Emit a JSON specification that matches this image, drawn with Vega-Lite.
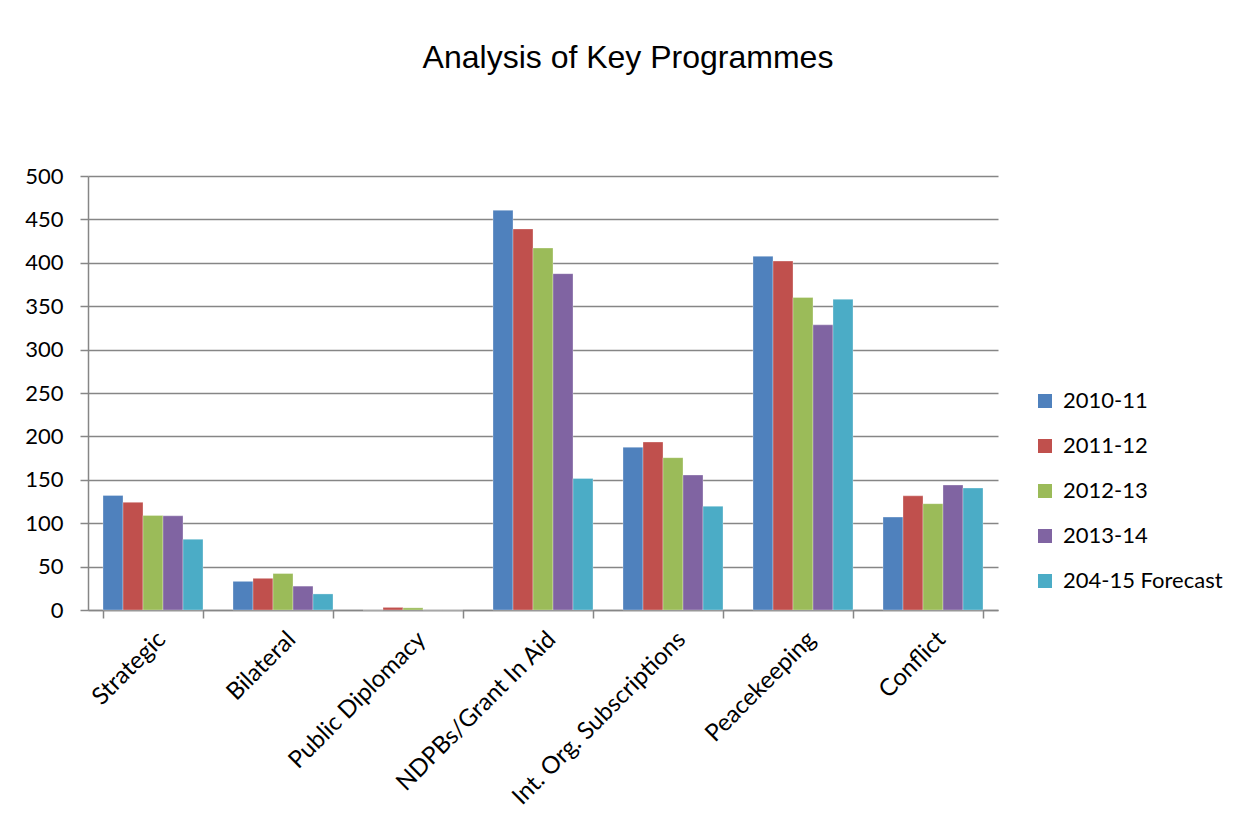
{
  "$schema": "https://vega.github.io/schema/vega-lite/v6.json",
  "width": 910,
  "height": 434,
  "padding": {"left": 24, "top": 42, "right": 10, "bottom": 10},
  "background": "white",
  "title": {
    "text": "Analysis of Key Programmes",
    "font": "Liberation Sans",
    "fontSize": 32,
    "fontWeight": "normal",
    "color": "#000000",
    "anchor": "middle",
    "offset": 90,
    "dx": 85
  },
  "data": {
    "values": [
      {"programme": "Strategic", "year": "2010-11", "value": 132},
      {"programme": "Strategic", "year": "2011-12", "value": 124},
      {"programme": "Strategic", "year": "2012-13", "value": 109},
      {"programme": "Strategic", "year": "2013-14", "value": 108.5},
      {"programme": "Strategic", "year": "204-15 Forecast", "value": 81.5},
      {"programme": "Bilateral", "year": "2010-11", "value": 33},
      {"programme": "Bilateral", "year": "2011-12", "value": 36.5},
      {"programme": "Bilateral", "year": "2012-13", "value": 42},
      {"programme": "Bilateral", "year": "2013-14", "value": 27.5},
      {"programme": "Bilateral", "year": "204-15 Forecast", "value": 18.5},
      {"programme": "Public Diplomacy", "year": "2010-11", "value": 0},
      {"programme": "Public Diplomacy", "year": "2011-12", "value": 3},
      {"programme": "Public Diplomacy", "year": "2012-13", "value": 2.5},
      {"programme": "Public Diplomacy", "year": "2013-14", "value": 0},
      {"programme": "Public Diplomacy", "year": "204-15 Forecast", "value": 0},
      {"programme": "NDPBs/Grant In Aid", "year": "2010-11", "value": 460.5},
      {"programme": "NDPBs/Grant In Aid", "year": "2011-12", "value": 439},
      {"programme": "NDPBs/Grant In Aid", "year": "2012-13", "value": 417},
      {"programme": "NDPBs/Grant In Aid", "year": "2013-14", "value": 387.5},
      {"programme": "NDPBs/Grant In Aid", "year": "204-15 Forecast", "value": 151.5},
      {"programme": "Int. Org. Subscriptions", "year": "2010-11", "value": 187.5},
      {"programme": "Int. Org. Subscriptions", "year": "2011-12", "value": 193.5},
      {"programme": "Int. Org. Subscriptions", "year": "2012-13", "value": 175.5},
      {"programme": "Int. Org. Subscriptions", "year": "2013-14", "value": 155.5},
      {"programme": "Int. Org. Subscriptions", "year": "204-15 Forecast", "value": 119.5},
      {"programme": "Peacekeeping", "year": "2010-11", "value": 407.5},
      {"programme": "Peacekeeping", "year": "2011-12", "value": 402},
      {"programme": "Peacekeeping", "year": "2012-13", "value": 360},
      {"programme": "Peacekeeping", "year": "2013-14", "value": 328.5},
      {"programme": "Peacekeeping", "year": "204-15 Forecast", "value": 358},
      {"programme": "Conflict", "year": "2010-11", "value": 107},
      {"programme": "Conflict", "year": "2011-12", "value": 131.5},
      {"programme": "Conflict", "year": "2012-13", "value": 122.5},
      {"programme": "Conflict", "year": "2013-14", "value": 144},
      {"programme": "Conflict", "year": "204-15 Forecast", "value": 140.5}
    ]
  },
  "mark": {"type": "bar", "stroke": "#ffffff", "strokeWidth": 0.5, "strokeOpacity": 0.6},
  "encoding": {
    "x": {
      "field": "programme",
      "type": "nominal",
      "sort": null,
      "scale": {"paddingInner": 0.2308, "paddingOuter": 0.1154},
      "axis": {
        "title": null,
        "labelAngle": -45,
        "labelFont": "Lato",
        "labelFontSize": 24,
        "labelColor": "#000000",
        "labelPadding": 9,
        "labelLimit": 0,
        "tickBand": "extent",
        "tickSize": 8,
        "tickColor": "#868686",
        "tickWidth": 1.5,
        "domainColor": "#868686",
        "domainWidth": 1.5,
        "grid": false
      }
    },
    "xOffset": {"field": "year", "type": "nominal", "sort": null, "scale": {"paddingInner": 0, "paddingOuter": 0}},
    "y": {
      "field": "value",
      "type": "quantitative",
      "scale": {"domain": [0, 500], "nice": false},
      "axis": {
        "title": null,
        "values": [0, 50, 100, 150, 200, 250, 300, 350, 400, 450, 500],
        "labelFont": "Lato",
        "labelFontSize": 22,
        "labelColor": "#000000",
        "labelPadding": 17,
        "tickSize": 8,
        "tickColor": "#868686",
        "tickWidth": 1.5,
        "domainColor": "#868686",
        "domainWidth": 1.5,
        "grid": true,
        "gridColor": "#868686",
        "gridWidth": 1.5
      }
    },
    "color": {
      "field": "year",
      "type": "nominal",
      "sort": null,
      "scale": {
        "domain": ["2010-11", "2011-12", "2012-13", "2013-14", "204-15 Forecast"],
        "range": ["#4F81BD", "#C0504D", "#9BBB59", "#8064A2", "#4BACC6"]
      },
      "legend": {
        "title": null,
        "orient": "none",
        "legendX": 946,
        "legendY": 214,
        "symbolType": "square",
        "symbolSize": 196,
        "symbolStrokeWidth": 0,
        "symbolOpacity": 1,
        "labelFont": "Lato",
        "labelFontSize": 22,
        "labelColor": "#000000",
        "labelOffset": 7,
        "rowPadding": 23
      }
    }
  },
  "config": {
    "view": {"stroke": null}
  }
}
